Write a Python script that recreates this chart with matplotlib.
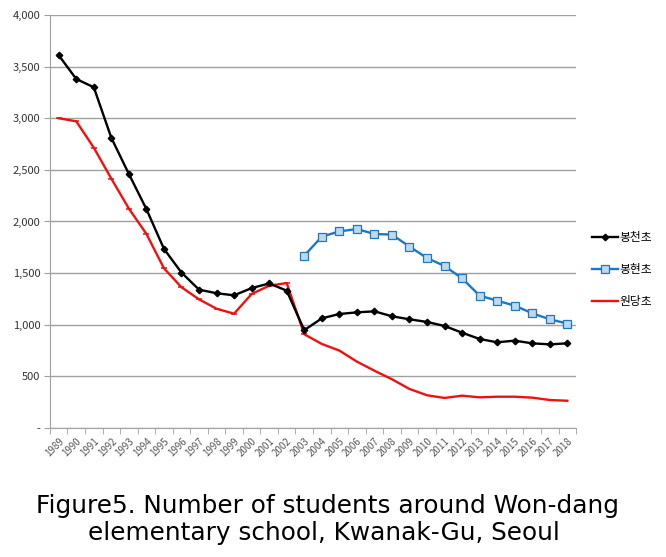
import matplotlib
matplotlib.use("Agg")
import matplotlib.pyplot as plt
from matplotlib.ticker import FixedLocator

plt.rcParams['font.family'] = ['Noto Sans CJK KR', 'DejaVu Sans']

years = [str(y) for y in range(1989, 2019)]
bongcheon = [3610, 3380, 3300, 2810, 2460, 2120, 1735, 1505, 1340, 1305, 1285, 1355, 1400, 1330,
             947, 1062, 1104, 1120, 1130, 1082, 1053, 1027, 988, 923, 862, 830, 846, 820, 810, 820]
bonghyeon_years = [str(y) for y in range(2003, 2019)]
bonghyeon = [1669, 1853, 1904, 1927, 1879, 1873, 1757, 1646, 1569, 1449, 1282, 1233, 1185, 1111, 1053, 1011]
wondang = [3000, 2970, 2715, 2415, 2125, 1880, 1547, 1363, 1246, 1155, 1107, 1298, 1378, 1404,
           908, 814, 750, 643, 555, 472, 378, 317, 291, 313, 297, 303, 303, 294, 271, 264]
series_names = ['봉천초', '봉현초', '원당초']
yticks = [0, 500, 1000, 1500, 2000, 2500, 3000, 3500, 4000]
ytick_labels = ['-', '500', '1,000', '1,500', '2,000', '2,500', '3,000', '3,500', '4,000']
caption_lines = ["Figure5. Number of students around Won-dang",
                 "elementary school, Kwanak-Gu, Seoul"]

fig = plt.figure(figsize=(6.66, 5.57), dpi=100)
ax = fig.add_axes([0.075, 0.2316, 0.79, 0.7415])

x = list(range(len(years)))
xb = [years.index(y) for y in bonghyeon_years]

ax.plot(x, bongcheon, color='black', lw=1.7, marker='D', ms=3.3, label=series_names[0], zorder=4)
ax.plot(xb, bonghyeon, color='#1f77bf', lw=1.7, marker='s', ms=5.2, mfc='#bcd9ee', mec='#1f77bf',
        mew=0.9, label=series_names[1], zorder=3)
ax.plot(x, wondang, color='#ee1111', lw=1.7, marker='_', ms=5, mew=1.1, markevery=list(range(15)),
        label=series_names[2], zorder=3)

ax.set_xlim(-0.5, len(years) - 0.5)
ax.set_ylim(0, 4000)
ax.set_yticks(yticks)
ax.set_yticklabels(ytick_labels, fontsize=8, color='#333333')
ax.yaxis.grid(True, color='#a0a0a0', lw=1)
ax.set_axisbelow(True)

ax.set_xticks(x)
ax.set_xticklabels(years, rotation=45, ha='right', rotation_mode='anchor', fontsize=7, color='#555555')
ax.xaxis.set_minor_locator(FixedLocator([i - 0.5 for i in range(len(years) + 1)]))
ax.tick_params(axis='x', which='major', length=0, pad=6)
ax.tick_params(axis='x', which='minor', length=4, color='#a0a0a0')
ax.tick_params(axis='y', length=4, color='#a0a0a0', pad=3)

for s in ['top', 'right']:
    ax.spines[s].set_visible(False)
for s in ['left', 'bottom']:
    ax.spines[s].set_color('#a0a0a0')

leg = ax.legend(loc='center left', bbox_to_anchor=(1.01, 0.383), frameon=False, fontsize=8.5,
                handlelength=2.2, handletextpad=0.1, labelspacing=1.6)

fig.text(0.492, 1 - 513 / 557, caption_lines[0], ha='center', va='baseline', fontsize=17.8,
         family=['DejaVu Sans'], color='black')
fig.text(0.487, 1 - 540 / 557, caption_lines[1], ha='center', va='baseline', fontsize=17.8,
         family=['DejaVu Sans'], color='black')

fig.savefig('out.png', dpi=100)
